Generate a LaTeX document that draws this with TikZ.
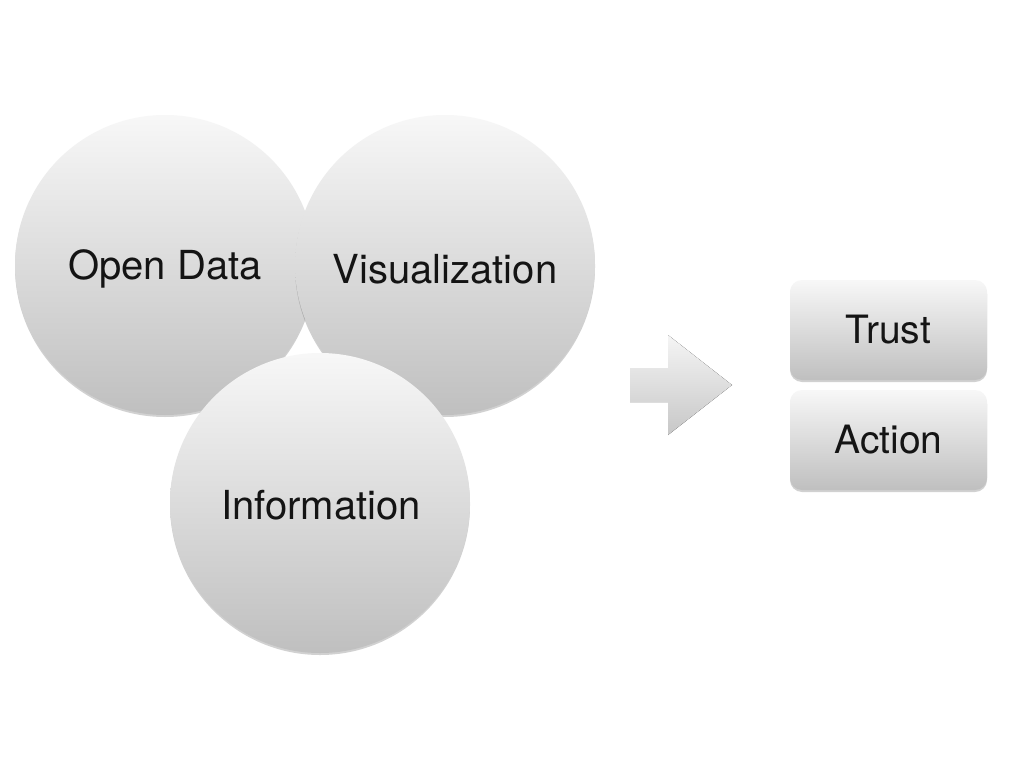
\documentclass[tikz,border=0pt]{standalone}
\usepackage{fontspec}
\setmainfont{TeX Gyre Heros}
\usetikzlibrary{shadows,shapes.arrows}
\tikzset{
  ball/.style={circle, minimum size=300pt, inner sep=0pt, top color=black!3, bottom color=black!25,
    draw=none,
    drop shadow={shadow xshift=0pt, shadow yshift=-2pt, opacity=0.18, fill=black}},
  balltext/.style={font=\fontsize{40}{44}\selectfont, inner sep=0pt, text=black!92},
  tile/.style={rectangle, rounded corners=12pt, minimum width=197pt, minimum height=100pt, inner sep=0pt,
    top color=black!3, bottom color=black!25, draw=none, font=\fontsize{39}{44}\selectfont, text=black!92,
    drop shadow={shadow xshift=0pt, shadow yshift=-2pt, opacity=0.18, fill=black}},
}
\begin{document}
\begin{tikzpicture}[x=1pt,y=-1pt]
\useasboundingbox (0,0) rectangle (1024,768);
\fill[white] (0,0) rectangle (1024,768);
\node[ball] (open) at (165,265) {};
\node[balltext] (opent) at (165,269) {Open Data};
\node[ball] (vis) at (445,265) {};
\node[balltext] (vist) at (445,269) {Visualization};
\node[ball] (info) at (320,503) {};
\node[balltext] (infot) at (321,505) {Information};
\node[tile] (trust) at (888.5,330) {Trust};
\node[tile] (action) at (888.5,440) {Action};
\fill[top color=black!4, bottom color=black!22]
  (630,368) -- (668,368) -- (668,335) -- (732,385) -- (668,435) -- (668,402) -- (630,402) -- cycle;
\coordinate (arrowtip) at (732,385);
\end{tikzpicture}
\end{document}
